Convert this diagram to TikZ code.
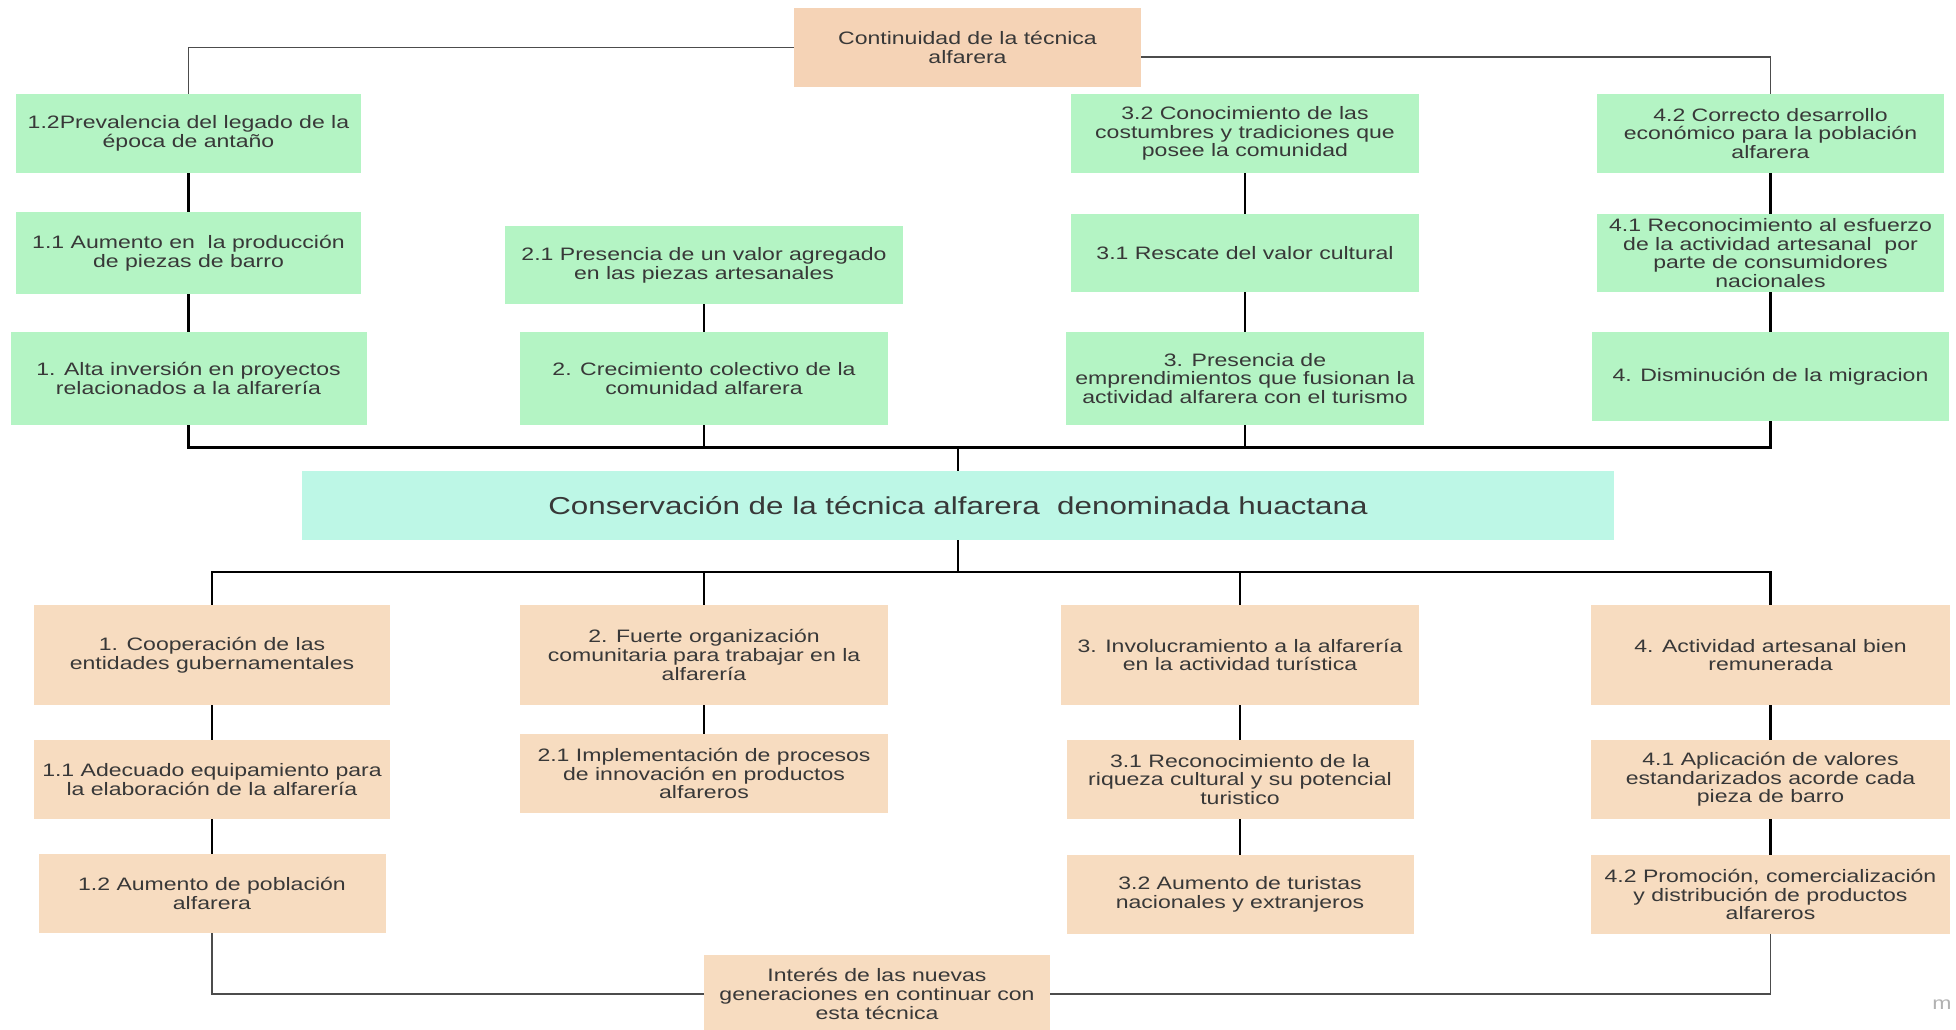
\documentclass[tikz,border=0pt]{standalone}
\usepackage{fontspec}
\setmainfont{Liberation Sans}[FakeStretch=1.28]
\usetikzlibrary{positioning,calc}
\definecolor{verde}{HTML}{B4F4C4}
\definecolor{durazno}{HTML}{F7DCC0}
\definecolor{duraznoosc}{HTML}{F5D3B6}
\definecolor{menta}{HTML}{BDF7E6}
\definecolor{texto}{HTML}{383838}
\tikzset{
  caja/.style={rectangle, inner sep=2pt, align=center, text=texto,
    font=\fontsize{9}{9.35}\selectfont},
  efecto/.style={caja, fill=verde},
  causa/.style={caja, fill=durazno},
  tam/.style 2 args={minimum width=#1*0.5pt, minimum height=#2*0.5pt},
  linea/.style={line width=1.2pt, black},
  fina/.style={line width=0.7pt, black!70}
}

\begin{document}
\begin{tikzpicture}[x=0.5pt,y=-0.5pt]
\useasboundingbox (0,0) rectangle (1956,1029);
\clip (0,0) rectangle (1956,1029);

% efectos
\node[caja, fill=duraznoosc, tam={347}{79}] (cont) at (967.5,47.5) {Continuidad de la técnica\\alfarera};
\node[efecto, tam={345}{79}] (a12) at (188.5,133.5) {1.2Prevalencia del legado de la\\época de antaño};
\node[efecto, tam={345}{82}] (a11) at (188.5,253) {1.1 Aumento en~ la producción\\de piezas de barro};
\node[efecto, tam={356}{93}] (a1) at (188.5,378.5) {1. Alta inversión en proyectos\\relacionados a la alfarería};
\node[efecto, tam={398}{78}] (a21) at (704,265) {2.1 Presencia de un valor agregado\\en las piezas artesanales};
\node[efecto, tam={368}{93}] (a2) at (704,378.5) {2. Crecimiento colectivo de la\\comunidad alfarera};
\node[efecto, tam={348}{79}] (a32) at (1245,133.5) {3.2 Conocimiento de las\\costumbres y tradiciones que\\posee la comunidad};
\node[efecto, tam={348}{78}] (a31) at (1245,253) {3.1 Rescate del valor cultural};
\node[efecto, tam={358}{93}] (a3) at (1245,378.5) {3. Presencia de\\emprendimientos que fusionan la\\actividad alfarera con el turismo};
\node[efecto, tam={347}{79}] (a42) at (1770.5,133.5) {4.2 Correcto desarrollo\\económico para la población\\alfarera};
\node[efecto, tam={347}{78}] (a41) at (1770.5,253) {4.1 Reconocimiento al esfuerzo\\de la actividad artesanal~ por\\parte de consumidores\\nacionales};
\node[efecto, tam={357}{89}] (a4) at (1770.5,376.5) {4. Disminución de la migracion};

% problema central
\node[caja, fill=menta, tam={1312}{69}, font=\fontsize{12.25}{14}\selectfont] (core) at (958,505.5) {Conservación de la técnica alfarera~ denominada huactana};

% causas
\node[causa, tam={356}{100}] (b1) at (212,655) {1. Cooperación de las\\entidades gubernamentales};
\node[causa, tam={356}{79}] (b11) at (212,779.5) {1.1 Adecuado equipamiento para\\la elaboración de la alfarería};
\node[causa, tam={347}{79}] (b12) at (212,893.5) {1.2 Aumento de población\\alfarera};
\node[causa, tam={368}{100}] (b2) at (704,655) {2. Fuerte organización\\comunitaria para trabajar en la\\alfarería};
\node[causa, tam={368}{79}] (b21) at (704,773.5) {2.1 Implementación de procesos\\de innovación en productos\\alfareros};
\node[causa, tam={358}{100}] (b3) at (1240,655) {3. Involucramiento a la alfarería\\en la actividad turística};
\node[causa, tam={347}{79}] (b31) at (1240,779.5) {3.1 Reconocimiento de la\\riqueza cultural y su potencial\\turistico};
\node[causa, tam={347}{79}] (b32) at (1240,894.5) {3.2 Aumento de turistas\\nacionales y extranjeros};
\node[causa, tam={359}{100}] (b4) at (1770.5,655) {4. Actividad artesanal bien\\remunerada};
\node[causa, tam={359}{79}] (b41) at (1770.5,779.5) {4.1 Aplicación de valores\\estandarizados acorde cada\\pieza de barro};
\node[causa, tam={359}{79}] (b42) at (1770.5,894.5) {4.2 Promoción, comercialización\\y distribución de productos\\alfareros};
\node[causa, tam={346}{78}] (interes) at (877,994) {Interés de las nuevas\\generaciones en continuar con\\esta técnica};

\node[text=black!30, font=\fontsize{9}{9}\selectfont] (marca) at (1942,1005) {m};

\coordinate (tbus) at (958,447.5);
\coordinate (lbus) at (958,572);

% conectores
\draw[fina] (a12.north) |- (cont.west);
\draw[fina] ($(cont.east)+(0,9.5)$) -| (a42.north);
\draw[linea] (a12) -- (a11) -- (a1);
\draw[linea] (a21) -- (a2);
\draw[linea] (a32) -- (a31) -- (a3);
\draw[linea] (a42) -- (a41) -- (a4);
\draw[linea] (a1.south) |- (a4.south |- tbus) -- (a4.south);
\draw[linea] (a2) -- (a2 |- tbus);
\draw[linea] (a3) -- (a3 |- tbus);
\draw[linea] (tbus) -- (core.north);

\draw[linea] (core.south) -- (lbus);
\draw[linea] (b1.north) |- (b4.north |- lbus) -- (b4.north);
\draw[linea] (b2) -- (b2 |- lbus);
\draw[linea] (b3) -- (b3 |- lbus);
\draw[linea] (b1) -- (b11) -- (b12);
\draw[linea] (b2) -- (b21);
\draw[linea] (b3) -- (b31) -- (b32);
\draw[linea] (b4) -- (b41) -- (b42);
\draw[fina] (b12.south) |- (interes.west);
\draw[fina] (b42.south) |- (interes.east);
\end{tikzpicture}
\end{document}
